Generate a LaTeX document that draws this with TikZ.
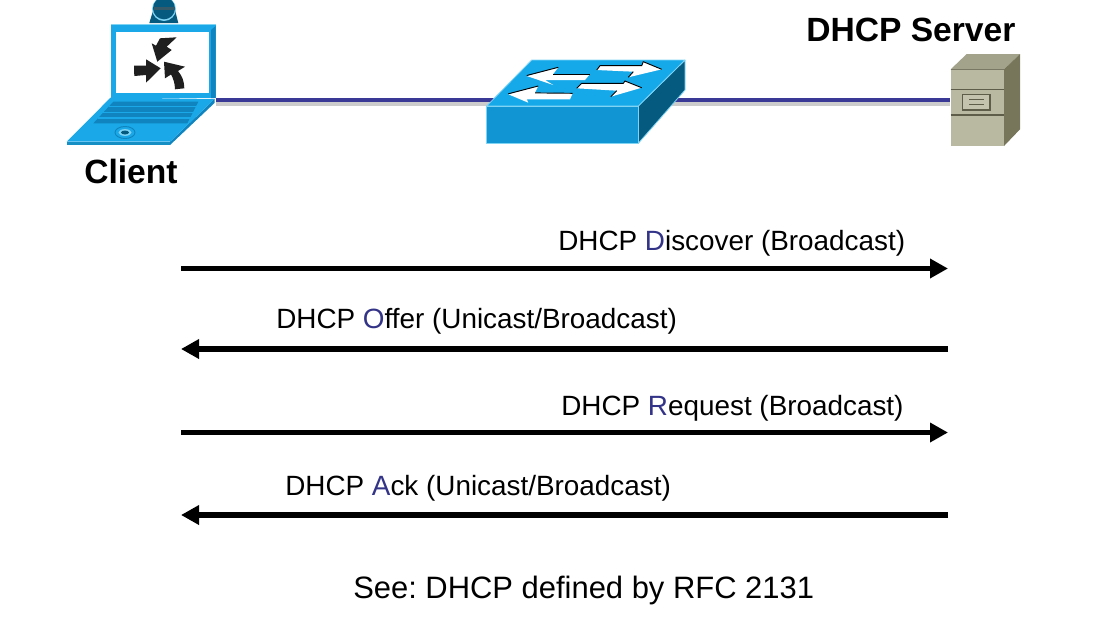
\documentclass[tikz,border=0pt]{standalone}
\usepackage{fontspec}
\setmainfont{Liberation Sans}
\usetikzlibrary{arrows.meta,calc}
\definecolor{letter}{HTML}{333388}
\definecolor{linkblue}{HTML}{3A3A96}
\definecolor{lapblue}{HTML}{1AA8E8}
\definecolor{lapdark}{HTML}{0F84BE}
\definecolor{lapedge}{HTML}{7FD4F4}
\definecolor{swfront}{HTML}{1295D3}
\definecolor{swtop}{HTML}{16A9EA}
\definecolor{swside}{HTML}{055A80}
\definecolor{svfront}{HTML}{B9B8A0}
\definecolor{svtop}{HTML}{A3A28A}
\definecolor{svside}{HTML}{77765A}
\definecolor{svline}{HTML}{5E5D4A}
\tikzset{
  link/.style={draw=linkblue,line width=3.6pt},
  linkshadow/.style={draw=black!20,line width=3pt},
  msg/.style={line width=4.2pt,-{Triangle[length=13.5pt,width=14pt]},black},
  msgtext/.style={anchor=base west,font=\fontsize{20.9}{25}\selectfont,inner sep=0pt,text=black},
  seetext/.style={anchor=base west,font=\fontsize{23.2}{28}\selectfont,inner sep=0pt,text=black},
  title/.style={anchor=base west,font=\fontsize{25.2}{30}\selectfont\bfseries,inner sep=0pt,text=black},
  icon/.style={inner sep=0pt,minimum height=60pt,draw=none},
  white arrow/.style={fill=white,draw=none},
}
\begin{document}
\frenchspacing
\begin{tikzpicture}[x=0.75pt,y=-0.75pt]
\useasboundingbox (0,0) rectangle (1120,619);
% anchors for the icons
\node[icon,minimum width=79pt] (laptop) at (163,100) {};
\node[icon,minimum width=120pt] (switch) at (585,100) {};
\node[icon,minimum width=40pt] (server) at (977,100) {};
% links
\draw[linkshadow] ($(laptop.east)+(0,4)$) -- ($(switch.west)+(0,4)$);
\draw[linkshadow] ($(switch.east)+(0,4)$) -- ($(server.west)+(0,4)$);
\draw[link] (laptop.east) -- (switch.west);
\draw[link] (switch.east) -- (server.west);
% laptop: camera
\fill[swside] (149.3,23) -- (178.3,23) -- (175,10) -- (153.3,10) -- cycle;
\fill[lapedge] (164,9) circle (12);
\fill[swside] (164,8.3) circle (11);
\fill[black!45!swside!80!white] (153.5,6.5) rectangle (175,10);
% laptop: lid
\fill[lapblue] (110.7,24) -- (215.7,24) -- (215.7,98) -- (110.7,98) -- cycle;
\fill[lapedge] (110.7,24) rectangle (215.7,25);
\fill[lapdark] (211,30) -- (215.7,26) -- (215.7,98) -- (211,98) -- cycle;
\fill[white] (115.7,32.3) rectangle (209,93);
% laptop: base
\fill[lapdark] (170,141.7) -- (214.5,99) -- (214.5,103) -- (170,145) -- cycle;
\fill[lapblue] (110.7,97.5) -- (214.5,99) -- (170,141.7) -- (66.7,141.7) -- cycle;
\fill[lapblue!85!black] (66.7,141.7) rectangle (170,145);
\fill[lapdark] (113.3,101.7) -- (198.3,101.7) -- (187.3,123.3) -- (93.3,123.3) -- cycle;
\draw[lapblue,line width=0.8pt] (108.5,106.7) -- (196,106.7);
\draw[lapblue,line width=0.8pt] (102.5,112.5) -- (193,112.5);
\draw[lapblue,line width=0.8pt] (97.5,118) -- (190.5,118);
\draw[lapdark,line width=0.7pt] (125,132.5) ellipse (10 and 6);
\fill[lapedge] (125,132.5) ellipse (6.5 and 3.4);
\fill[swside] (125,132.5) ellipse (4 and 2);
% laptop: screen arrows
\fill[black!88] (157.3,61.7) -- (151.7,43.3) -- (156,45.7) -- (160,38.3) -- (176.7,37.3) -- (166.7,46.7) -- (171.7,50) -- cycle;
\fill[black!88] (160.7,68.3) -- (146,59.3) -- (146,65.7) -- (134,65.7) -- (134.3,76) -- (146,75) -- (146,82.7) -- cycle;
\fill[black!88] (164,61.7) -- (185,66.7) -- (178,71) .. controls (182,76) and (184.3,81) .. (184.3,88.3) -- (175,89.3) .. controls (175,83) and (173,78) .. (171,74.5) -- (165,78.3) -- cycle;
% switch
\fill[swside,draw=lapedge,line width=0.6pt,line join=round] (638.3,106) -- (685,60) -- (685,90) -- (638.3,143.3) -- cycle;
\fill[swtop,draw=lapedge,line width=0.6pt,line join=round] (486.7,106) -- (531.7,60) -- (685,60) -- (638.3,106) -- cycle;
\fill[swfront,draw=lapedge,line width=0.6pt,line join=round] (486.7,106) rectangle (638.3,143.3);
\fill[white arrow] (526.7,76) -- (558.3,67.3) -- (553.3,74) -- (590,74) -- (585,80) -- (545,80) -- (553.3,85) -- cycle;
\fill[white arrow] (508.3,94.3) -- (538.3,86) -- (535,92.7) -- (572.7,93.3) -- (570,99.3) -- (526.7,99.3) -- (528.3,102.7) -- cycle;
\fill[white arrow] (661.7,69.3) -- (643.3,61.7) -- (641.7,65.7) -- (600,65.7) -- (596.7,70) -- (633.3,71.7) -- (628.3,77.3) -- cycle;
\fill[white arrow] (641.7,87.7) -- (625,81) -- (623.3,83.3) -- (581.7,83.3) -- (576.7,88.3) -- (616.7,90.7) -- (610.7,96.7) -- cycle;
\draw[black,line width=0.7pt] (526.7,75.5) -- (558.3,67.3);
\draw[black,line width=0.7pt] (553.3,74) -- (590,74);
\draw[black,line width=0.7pt] (508.3,93.8) -- (538.3,86);
\draw[black,line width=0.7pt] (535,92.9) -- (572.7,93.3);
\draw[black,line width=0.7pt] (596.7,70) -- (600,65.7) -- (641.7,65.7) -- (643.3,61.7) -- (661.7,69.3);
\draw[black,line width=0.7pt] (576.7,88.3) -- (581.7,83.3) -- (623.3,83.3) -- (625,81) -- (641.7,87.7);
\draw[black,line width=0.7pt] (628.3,77.3) -- (633.3,71.7);
\draw[black,line width=0.7pt] (610.7,96.7) -- (616.7,90.7);
% server
\fill[svtop] (950.7,69.3) -- (966.7,54) -- (1020,54) -- (1004,69.3) -- cycle;
\fill[svside] (1004,69.3) -- (1020,54) -- (1020,129.3) -- (1004,146) -- cycle;
\fill[svfront] (950.7,69.3) rectangle (1004,146);
\draw[svline!70!svfront,line width=0.6pt] (950.7,69.3) -- (1004,69.3);
\draw[svline,line width=0.8pt] (950.7,89.3) -- (1004,89.3);
\draw[svline,line width=0.8pt] (950.7,115) -- (1004,115);
\fill[svfront!85!white,draw=svline,line width=1.1pt] (962.5,94.5) rectangle (990,110);
\draw[svline,line width=0.6pt] (969,99.5) -- (984,99.5);
\draw[svline,line width=0.6pt] (969,104.5) -- (984,104.5);
% titles
\node[title] (clientlabel) at (84,183) {Client};
\node[title] (serverlabel) at (806,41) {DHCP Server};
% messages
\coordinate (d1) at (181,268.5); \coordinate (d2) at (948,268.5);
\coordinate (o1) at (948,349); \coordinate (o2) at (181,349);
\coordinate (r1) at (181,432.5); \coordinate (r2) at (948,432.5);
\coordinate (a1) at (948,515); \coordinate (a2) at (181,515);
\draw[msg] (d1) -- (d2);
\draw[msg] (o1) -- (o2);
\draw[msg] (r1) -- (r2);
\draw[msg] (a1) -- (a2);
\node[msgtext] (discover) at (558,250) {DHCP \textcolor{letter}{D}iscover (Broadcast)};
\node[msgtext] (offer) at (276,328) {DHCP \textcolor{letter}{O}ffer (Unicast/Broadcast)};
\node[msgtext] (request) at (561,415) {DHCP \textcolor{letter}{R}equest (Broadcast)};
\node[msgtext] (ack) at (285,495) {DHCP \textcolor{letter}{A}ck (Unicast/Broadcast)};
\node[seetext] (see) at (353,598) {See: DHCP defined by RFC 2131};
\end{tikzpicture}
\end{document}
